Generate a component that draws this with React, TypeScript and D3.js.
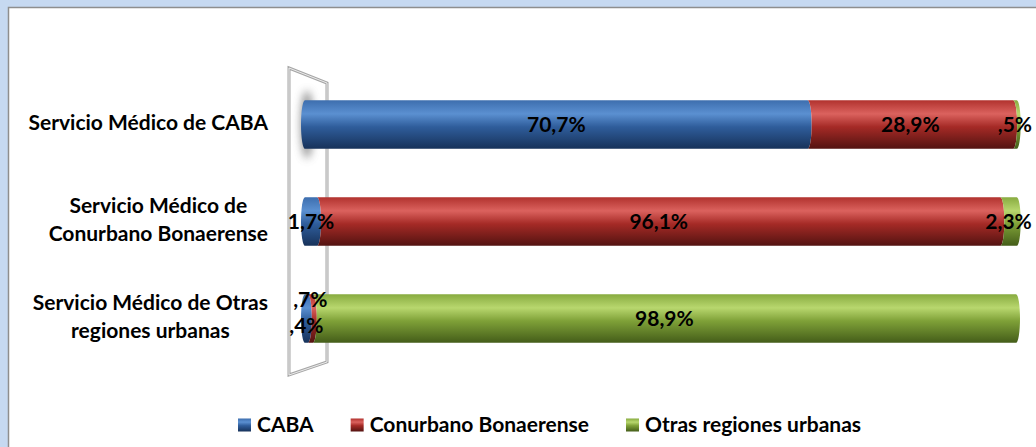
import React, { useEffect, useRef } from "react";
import * as d3 from "d3";

// ---- data ----
const categories: string[][] = [
  ["Servicio Médico de CABA"],
  ["Servicio Médico de", "Conurbano Bonaerense"],
  ["Servicio Médico de Otras", "regiones urbanas"],
];
const seriesNames = ["CABA", "Conurbano Bonaerense", "Otras regiones urbanas"];
const cabaValues = [70.7, 1.7, 0.4];
const conurbanoValues = [28.9, 96.1, 0.7];
const otrasValues = [0.5, 2.3, 98.9];

// ---- style ----
const W = 1036;
const H = 447;
const FONT = "Lato, 'Open Sans', 'DejaVu Sans', sans-serif";
const palettes = [
  { top: "#3d6eae", hi: "#5b90d1", mid: "#2f5d9b", bot: "#17325a" },
  { top: "#b1322e", hi: "#db625e", mid: "#a52a26", bot: "#531311" },
  { top: "#88ab40", hi: "#b8d76e", mid: "#7fa138", bot: "#445d19" },
];

const fmt = (v: number) => {
  let s = d3.format(".1f")(v).replace(".", ",");
  if (s.startsWith("0,")) s = s.slice(1);
  return s + "%";
};

function segPath(x0: number, x1: number, y0: number, h: number, first: boolean, rx: number) {
  const y1 = y0 + h;
  const ry = h / 2;
  return `M${x0},${y0} L${x1},${y0} A${rx},${ry} 0 0 1 ${x1},${y1} L${x0},${y1} A${rx},${ry} 0 0 ${first ? 1 : 0} ${x0},${y0} Z`;
}

export default function App() {
  const ref = useRef<SVGSVGElement | null>(null);

  useEffect(() => {
    const svg = d3.select(ref.current!);
    svg.selectAll("*").remove();

    const series = [cabaValues, conurbanoValues, otrasValues];
    const keys = categories.map((c) => c.join(" "));

    const x = d3.scaleLinear().domain([0, 100]).range([305, 1016]);
    const y = d3.scaleBand<string>().domain(keys).range([76, 367]).paddingInner(0.5).paddingOuter(0.25);

    const defs = svg.append("defs");
    palettes.forEach((p, i) => {
      const g = defs.append("linearGradient").attr("id", `grad${i}`).attr("x1", 0).attr("x2", 0).attr("y1", 0).attr("y2", 1);
      g.append("stop").attr("offset", "0%").attr("stop-color", p.top);
      g.append("stop").attr("offset", "28%").attr("stop-color", p.hi);
      g.append("stop").attr("offset", "55%").attr("stop-color", p.mid);
      g.append("stop").attr("offset", "100%").attr("stop-color", p.bot);
    });
    const blur = defs.append("filter").attr("id", "blur").attr("x", "-200%").attr("y", "-50%").attr("width", "500%").attr("height", "200%");
    blur.append("feGaussianBlur").attr("stdDeviation", 4);

    // background
    svg.append("rect").attr("width", W).attr("height", H).attr("fill", "#c6d9f1");
    svg.append("rect").attr("x", 8.5).attr("y", 7.5).attr("width", W).attr("height", H).attr("fill", "#ffffff")
      .attr("stroke", "#8e8e8e").attr("stroke-width", 1.5);

    // back wall
    const x0 = x(0);
    const wall: [number, number][] = [[x0 - 16, 68], [x0 + 22, 83], [x0 + 22, 362], [x0 - 16, 375]];
    const wallPath = "M" + wall.map((p) => p.join(",")).join("L") + "Z";
    svg.append("path").attr("d", wallPath).attr("fill", "none").attr("stroke", "#a6a6a6").attr("stroke-width", 3);
    svg.append("path").attr("d", wallPath).attr("fill", "none").attr("stroke", "#ececec").attr("stroke-width", 1);

    // shadow at first bar
    const c0 = y(keys[0])! + y.bandwidth() / 2;
    svg.append("ellipse").attr("cx", x0 + 2).attr("cy", c0).attr("rx", 6).attr("ry", 34)
      .attr("fill", "#666").attr("opacity", 0.75).attr("filter", "url(#blur)");

    const bh = y.bandwidth();
    keys.forEach((k, ci) => {
      const top = y(k)!;
      let acc = 0;
      series.forEach((vals, si) => {
        const v = vals[ci];
        const a = x(acc);
        const b = x(acc + v);
        svg.append("path").attr("d", segPath(a, b, top, bh, si === 0, 4)).attr("fill", `url(#grad${si})`);
        acc += v;
      });
    });

    // value labels
    keys.forEach((k, ci) => {
      const cy = y(k)! + bh / 2;
      let acc = 0;
      let prev: { node: d3.Selection<SVGTextElement, unknown, null, undefined>; l: number; r: number } | null = null;
      series.forEach((vals, si) => {
        const v = vals[ci];
        const cx = (x(acc) + x(acc + v)) / 2;
        acc += v;
        const t = svg.append("text").attr("x", cx).attr("y", cy + 7.5).attr("text-anchor", "middle")
          .attr("font-family", FONT).attr("font-weight", "bold").attr("font-size", 21).attr("fill", "#000").text(fmt(v));
        const w = (t.node() as SVGTextElement).getComputedTextLength();
        const cur = { node: t, l: cx - w / 2, r: cx + w / 2 };
        if (prev && cur.l < prev.r) {
          prev.node.attr("y", cy + 7.5 + 7);
          t.attr("y", cy + 7.5 - 19);
        }
        prev = cur;
      });
    });

    // category labels
    const rightEdge = 268;
    categories.forEach((lines, ci) => {
      const cy = y(keys[ci])! + bh / 2;
      const g = svg.append("g");
      const lh = 28;
      const texts = lines.map((ln, li) =>
        g.append("text").attr("y", cy + 5 + (li - (lines.length - 1) / 2) * lh).attr("text-anchor", "middle")
          .attr("font-family", FONT).attr("font-weight", "bold").attr("font-size", 21).attr("fill", "#000").text(ln)
      );
      const maxW = d3.max(texts, (t) => (t.node() as SVGTextElement).getComputedTextLength()) || 0;
      texts.forEach((t) => t.attr("x", rightEdge - maxW / 2));
    });

    // legend
    let lx = 238;
    const ly = 425;
    seriesNames.forEach((name, si) => {
      svg.append("rect").attr("x", lx).attr("y", ly - 6.5).attr("width", 13).attr("height", 13).attr("fill", `url(#grad${si})`);
      const t = svg.append("text").attr("x", lx + 19).attr("y", ly + 7).attr("font-family", FONT).attr("font-weight", "bold")
        .attr("font-size", 21).attr("fill", "#000").text(name);
      const w = (t.node() as SVGTextElement).getComputedTextLength();
      lx += 19 + w + 37;
    });
  }, []);

  return (
    <svg ref={ref} width={W} height={H} style={{ position: "fixed", left: 0, top: 0, display: "block" }} />
  );
}
